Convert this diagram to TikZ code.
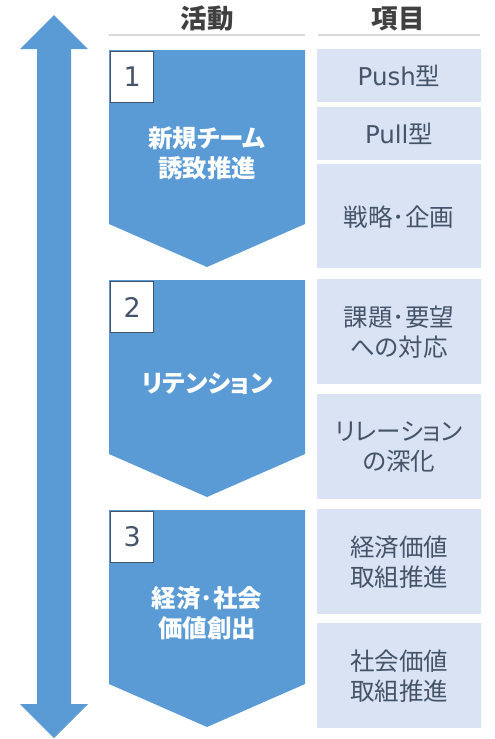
\documentclass[tikz,border=0pt]{standalone}
\usepackage{fontspec}
\setmainfont{Noto Sans CJK JP}[RawFeature=+palt]
\newfontfamily\lat{DejaVu Sans}
\definecolor{chev}{HTML}{5B9BD5}
\definecolor{itembg}{HTML}{DAE3F3}
\definecolor{itemtx}{HTML}{44546A}
\definecolor{headtx}{HTML}{404040}
\definecolor{rule}{HTML}{D9D9D9}
\newcommand{\mdot}{･}
\tikzset{
  chevshape/.style={fill=chev, draw=none},
  itembox/.style={fill=itembg, draw=none},
  itemtext/.style={text=itemtx, font=\fontsize{24.5}{30}\selectfont, align=center},
  chevtext/.style={text=white, font=\bfseries\fontsize{24.5}{30}\selectfont, align=center},
  headtext/.style={text=headtx, font=\bfseries\fontsize{26.5}{30}\selectfont},
  numbox/.style={fill=white, draw=itemtx, line width=1.6pt, minimum width=43pt, minimum height=51pt, anchor=north west, inner sep=0pt, text=itemtx, font=\lat\fontsize{27}{30}\selectfont},
  headrule/.style={draw=rule, line width=2pt}
}
\begin{document}
\begin{tikzpicture}[x=1pt,y=-1pt]
\useasboundingbox (0,0) rectangle (495,739);
% double arrow
\fill[chev] (54,15) -- (88,49) -- (71,49) -- (71,704) -- (88,704) -- (54,738) -- (20,704) -- (37,704) -- (37,49) -- (20,49) -- cycle;
% headers
\node[headtext] (h1) at (207,19) {活動};
\node[headtext] (h2) at (398,19) {項目};
\coordinate (r1a) at (109,35); \coordinate (r1b) at (305,35);
\coordinate (r2a) at (318,35); \coordinate (r2b) at (480,35);
\draw[headrule] (r1a) -- (r1b);
\draw[headrule] (r2a) -- (r2b);
% chevrons
\foreach \t/\n in {50/1,280/2,510/3}{
  \fill[chevshape] (109,\t) -- (305,\t) -- (305,\t+174) -- (207,\t+217) -- (109,\t+174) -- cycle;
  \node[numbox] (n\n) at (109.8,\t+0.8) {\n};
}
\node[chevtext] (c1) at (207,153) {新規チーム\\誘致推進};
\node[chevtext] (c2) at (207,384) {リテンション};
\node[chevtext] (c3) at (207,613) {経済\mdot 社会\\価値創出};
% item boxes
\fill[itembox] (317,49) rectangle (481,102);
\fill[itembox] (317,107) rectangle (481,160);
\fill[itembox] (317,164) rectangle (481,268);
\fill[itembox] (317,279) rectangle (481,384);
\fill[itembox] (317,394) rectangle (481,499);
\fill[itembox] (317,509) rectangle (481,614);
\fill[itembox] (317,623) rectangle (481,728);
\node[itemtext] (i1) at (399,76) {{\lat Push}型};
\node[itemtext] (i2) at (399,134) {{\lat Pull}型};
\node[itemtext] (i3) at (399,217) {戦略\mdot 企画};
\node[itemtext] (i4) at (399,332) {課題\mdot 要望\\への対応};
\node[itemtext] (i5) at (399,447) {リレーション\\の深化};
\node[itemtext] (i6) at (399,562) {経済価値\\取組推進};
\node[itemtext] (i7) at (399,676) {社会価値\\取組推進};
\end{tikzpicture}
\end{document}
